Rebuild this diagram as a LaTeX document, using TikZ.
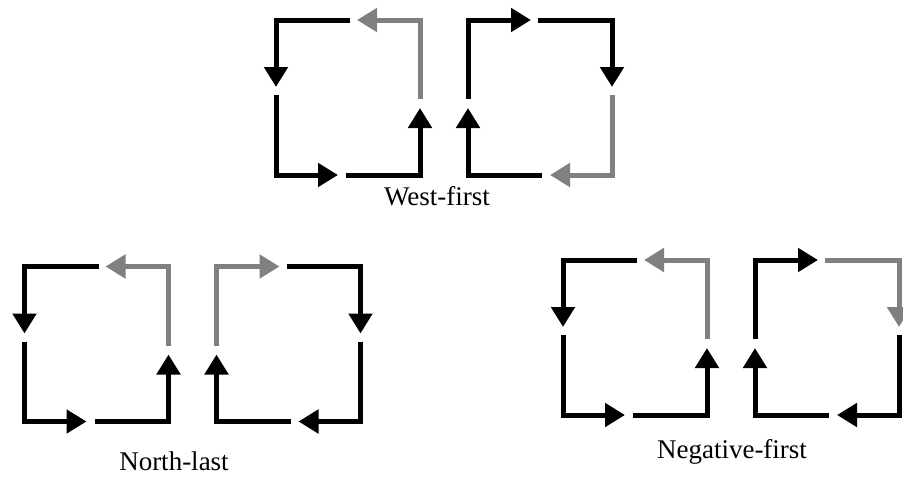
\documentclass[tikz,border=0pt]{standalone}
\usepackage{fontspec}
\setmainfont{Liberation Serif}
\usetikzlibrary{arrows.meta}
% one square of four turns: name, shift, xscale, colours of the four turns
\newcommand{\turnsquare}[7]{%
  \begin{scope}[shift={#2},xscale=#3]
    \coordinate (#1-as) at (74,0);   \coordinate (#1-ac) at (0,0);     \coordinate (#1-at) at (0,67);
    \coordinate (#1-bs) at (0,75);   \coordinate (#1-bc) at (0,155);   \coordinate (#1-bt) at (62,155);
    \coordinate (#1-cs) at (70,155); \coordinate (#1-cc) at (144,155); \coordinate (#1-ct) at (144,88);
    \coordinate (#1-ds) at (144,79); \coordinate (#1-dc) at (144,0);   \coordinate (#1-dt) at (81,0);
    \draw[turn,#4] (#1-as) -- (#1-ac) -- (#1-at);
    \draw[turn,#5] (#1-bs) -- (#1-bc) -- (#1-bt);
    \draw[turn,#6] (#1-cs) -- (#1-cc) -- (#1-ct);
    \draw[turn,#7] (#1-ds) -- (#1-dc) -- (#1-dt);
  \end{scope}}

\begin{document}
\begin{tikzpicture}[
  x=1pt,y=-1pt,
  turn/.style={line width=5pt,line join=miter,-{Triangle[length=20pt,width=23pt]}},
  caption/.style={anchor=base,inner sep=0pt,font=\fontsize{27}{30}\selectfont}
]
  \useasboundingbox (0,0) rectangle (903,477);
  % west-first
  \turnsquare{wl}{(276,20)}{1}{black}{black}{black}{gray}
  \turnsquare{wr}{(612,20)}{-1}{black}{gray}{black}{black}
  \node[caption] (west) at (437,205) {West-first};
  % north-last
  \turnsquare{nl}{(24.5,266.5)}{1}{black}{black}{black}{gray}
  \turnsquare{nr}{(360.5,266.5)}{-1}{black}{black}{black}{gray}
  \node[caption] (north) at (174,470) {North-last};
  % negative-first
  \turnsquare{gl}{(563,260)}{1}{black}{black}{black}{gray}
  \turnsquare{gr}{(899,260)}{-1}{gray}{black}{black}{black}
  \node[caption] (negative) at (732,458) {Negative-first};
\end{tikzpicture}
\end{document}
